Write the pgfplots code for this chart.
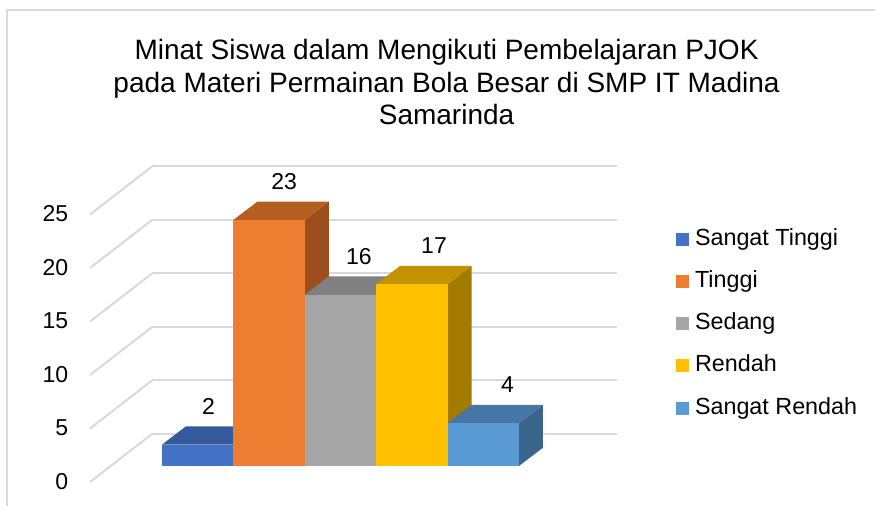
\documentclass[border=0pt]{standalone}
\usepackage{pgfplots}
\pgfplotsset{compat=1.18}
\usepackage{fontspec}
\setmainfont{Liberation Sans}
\definecolor{gridc}{HTML}{D9D9D9}
\definecolor{c1f}{HTML}{4472C4}\definecolor{c1t}{HTML}{345A9B}\definecolor{c1s}{HTML}{2E4F88}
\definecolor{c2f}{HTML}{ED7D31}\definecolor{c2t}{HTML}{B55E22}\definecolor{c2s}{HTML}{9A4F1D}
\definecolor{c3f}{HTML}{A5A5A5}\definecolor{c3t}{HTML}{808080}\definecolor{c3s}{HTML}{6E6E6E}
\definecolor{c4f}{HTML}{FFC000}\definecolor{c4t}{HTML}{C29200}\definecolor{c4s}{HTML}{A37B00}
\definecolor{c5f}{HTML}{5B9BD5}\definecolor{c5t}{HTML}{4676A6}\definecolor{c5s}{HTML}{3A648B}
\newcommand\tickfont{\fontsize{17.25}{20}\selectfont}
\newcommand\titlefont{\fontsize{21}{24}\selectfont}
\begin{document}
\begin{tikzpicture}
\begin{axis}[
  scale only axis, width=656.25pt, height=379.5pt,
  xmin=-2.26891, xmax=9.98599, ymin=-3.73832, ymax=43.5514,
  hide axis, clip=false,
  /pgf/number format/assume math mode=true,
  legend cell align=left,
  legend image code/.code={\fill[#1] (0pt,-4.875pt) rectangle (9.75pt,4.875pt);},
  legend style={at={(axis cs:7.199,22.27)}, anchor=north west, draw=none, fill=none,
    inner sep=0pt, outer sep=0pt, row sep=14.7pt, column sep=4.5pt,
    font=\fontsize{17.5}{20}\selectfont,
    nodes={inner sep=0pt, text height=13pt, text depth=4pt}},
]
% frame
\draw[gridc, line width=1.9pt] (axis cs:10.5,42.62) -- (axis cs:-2.171,42.62) -- (axis cs:-2.171,-5);
% back wall gridlines
\addplot[gridc, line width=1.5pt, forget plot] coordinates {(-0.140,2.99) (6.373,2.99)};
\addplot[gridc, line width=1.5pt, forget plot] coordinates {(-0.140,7.99) (6.373,7.99)};
\addplot[gridc, line width=1.5pt, forget plot] coordinates {(-0.140,12.99) (6.373,12.99)};
\addplot[gridc, line width=1.5pt, forget plot] coordinates {(-0.140,17.99) (6.373,17.99)};
\addplot[gridc, line width=1.5pt, forget plot] coordinates {(-0.140,22.99) (6.373,22.99)};
\addplot[gridc, line width=1.5pt, forget plot] coordinates {(-0.140,27.99) (6.373,27.99)};
% side wall gridlines
\addplot[gridc, line width=1.5pt, forget plot] coordinates {(-1.008,-1.495) (-0.140,2.99)};
\addplot[gridc, line width=1.5pt, forget plot] coordinates {(-1.008,3.505) (-0.140,7.99)};
\addplot[gridc, line width=1.5pt, forget plot] coordinates {(-1.008,8.505) (-0.140,12.99)};
\addplot[gridc, line width=1.5pt, forget plot] coordinates {(-1.008,13.505) (-0.140,17.99)};
\addplot[gridc, line width=1.5pt, forget plot] coordinates {(-1.008,18.505) (-0.140,22.99)};
\addplot[gridc, line width=1.5pt, forget plot] coordinates {(-1.008,23.505) (-0.140,27.99)};
% tick labels
\node[anchor=east, inner sep=0pt, font=\tickfont] at (axis cs:-1.3095,-1.44) {0};
\node[anchor=east, inner sep=0pt, font=\tickfont] at (axis cs:-1.3095,3.56) {5};
\node[anchor=east, inner sep=0pt, font=\tickfont] at (axis cs:-1.3095,8.56) {10};
\node[anchor=east, inner sep=0pt, font=\tickfont] at (axis cs:-1.3095,13.56) {15};
\node[anchor=east, inner sep=0pt, font=\tickfont] at (axis cs:-1.3095,18.56) {20};
\node[anchor=east, inner sep=0pt, font=\tickfont] at (axis cs:-1.3095,23.56) {25};
% bar 1: Sangat Tinggi = 2
\addplot[fill=c1s, draw=none, forget plot] coordinates {(1,0) (1.336,1.71) (1.336,3.71) (1,2)};
\addplot[fill=c1t, draw=none, forget plot] coordinates {(0,2) (1,2) (1.336,3.71) (0.336,3.71)};
\addplot[fill=c1f, draw=none] coordinates {(0,0) (1,0) (1,2) (0,2)};
\addlegendentry{Sangat Tinggi}
% bar 2: Tinggi = 23
\addplot[fill=c2s, draw=none, forget plot] coordinates {(2,0) (2.336,1.71) (2.336,24.71) (2,23)};
\addplot[fill=c2t, draw=none, forget plot] coordinates {(1,23) (2,23) (2.336,24.71) (1.336,24.71)};
\addplot[fill=c2f, draw=none] coordinates {(1,0) (2,0) (2,23) (1,23)};
\addlegendentry{Tinggi}
% bar 3: Sedang = 16
\addplot[fill=c3s, draw=none, forget plot] coordinates {(3,0) (3.336,1.71) (3.336,17.71) (3,16)};
\addplot[fill=c3t, draw=none, forget plot] coordinates {(2,16) (3,16) (3.336,17.71) (2.336,17.71)};
\addplot[fill=c3f, draw=none] coordinates {(2,0) (3,0) (3,16) (2,16)};
\addlegendentry{Sedang}
% bar 4: Rendah = 17
\addplot[fill=c4s, draw=none, forget plot] coordinates {(4,0) (4.336,1.71) (4.336,18.71) (4,17)};
\addplot[fill=c4t, draw=none, forget plot] coordinates {(3,17) (4,17) (4.336,18.71) (3.336,18.71)};
\addplot[fill=c4f, draw=none] coordinates {(3,0) (4,0) (4,17) (3,17)};
\addlegendentry{Rendah}
% bar 5: Sangat Rendah = 4
\addplot[fill=c5s, draw=none, forget plot] coordinates {(5,0) (5.336,1.71) (5.336,5.71) (5,4)};
\addplot[fill=c5t, draw=none, forget plot] coordinates {(4,4) (5,4) (5.336,5.71) (4.336,5.71)};
\addplot[fill=c5f, draw=none] coordinates {(4,0) (5,0) (5,4) (4,4)};
\addlegendentry{Sangat Rendah}
% data labels
\addplot[draw=none, mark=none, forget plot, nodes near coords,
  every node near coord/.append style={anchor=center, yshift=28.8pt, inner sep=0pt, font=\tickfont, text=black}]
  coordinates {(0.651,2) (1.711,23) (2.759,16) (3.810,17) (4.839,4)};
% title
\node[anchor=base, font=\titlefont] at (axis cs:3.985,37.95) {Minat Siswa dalam Mengikuti Pembelajaran PJOK};
\node[anchor=base, font=\titlefont] at (axis cs:3.985,34.95) {pada Materi Permainan Bola Besar di SMP IT Madina};
\node[anchor=base, font=\titlefont] at (axis cs:3.985,31.95) {Samarinda};
\end{axis}
\pgfresetboundingbox
\useasboundingbox (current axis.south west) rectangle (current axis.north east);
\end{tikzpicture}
\end{document}
